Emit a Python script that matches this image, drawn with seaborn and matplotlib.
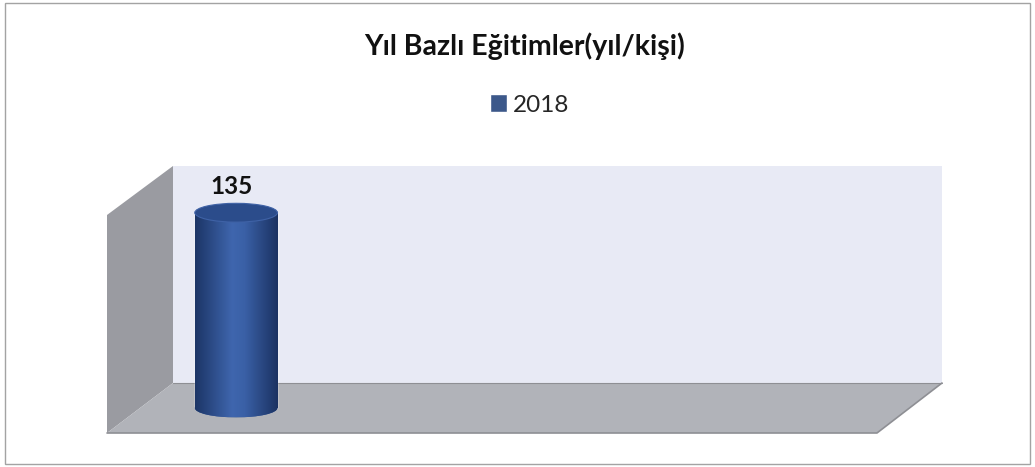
import numpy as np
import pandas as pd
import matplotlib
matplotlib.use("Agg")
import matplotlib.pyplot as plt
from matplotlib.patches import Polygon, Rectangle, Ellipse
from matplotlib.colors import LinearSegmentedColormap
import seaborn as sns

# data
title = "Yıl Bazlı Eğitimler(yıl/kişi)"
categories = ["Eğitim"]
series = ["2018"]
values = [135]
ymax = 150      # hidden value axis max
n_slots = 4     # category slots on the (hidden) x axis

# colours
bar_color = "#2F5597"
top_color = "#2B4C8B"
rim_color = "#3F62A6"
back_wall = "#E8EAF5"
side_wall = "#9A9BA1"
floor_col = "#B1B3B9"
edge_col = "#8E8F94"

sns.set_style("white")
plt.rcParams["font.family"] = ["Lato", "DejaVu Sans"]

W, H = 1035, 467
fig = plt.figure(figsize=(W / 100, H / 100), dpi=100)

# 3d box drawn in pixel space
bg = fig.add_axes([0, 0, 1, 1])
bg.set_xlim(0, W)
bg.set_ylim(H, 0)
bg.axis("off")
bg.add_patch(Rectangle((5, 3), 1025, 461, fill=False, edgecolor="#A3A3A3", lw=1))
bg.add_patch(Polygon([(173, 166), (942, 166), (942, 383), (173, 383)], closed=True,
                     facecolor=back_wall, edgecolor="none"))
bg.add_patch(Polygon([(107, 215), (173, 166), (173, 383), (107, 433)], closed=True,
                     facecolor=side_wall, edgecolor="none"))
bg.add_patch(Polygon([(173, 383), (942, 383), (877, 433), (107, 433)], closed=True,
                     facecolor=floor_col, edgecolor="none"))
bg.plot([173, 942], [383, 383], color=edge_col, lw=0.8)
bg.plot([107, 877, 942], [433, 433, 383], color=edge_col, lw=1.2)

# data plane sits half way through the depth
zero_px, top_px = 408, 191
ymin = -12
ppu = (zero_px - top_px) / ymax
ax_bottom_px = zero_px - ymin * ppu
ax = fig.add_axes([140 / W, (H - ax_bottom_px) / H, 769 / W, (ax_bottom_px - top_px) / H])
ax.patch.set_alpha(0)

df = pd.DataFrame({"kategori": categories, "deger": values, "yil": series})
sns.barplot(data=df, x="kategori", y="deger", hue="yil", palette=[bar_color],
            width=0.43, ax=ax, legend=True)

# cylinder shading
cyl_cmap = LinearSegmentedColormap.from_list(
    "cyl", [(0, "#1C3566"), (0.45, "#3F66AE"), (0.6, "#3A60A6"), (1, "#1B3262")])
grad = np.linspace(0, 1, 256).reshape(1, -1)
eh = 13
for bar, v in zip(list(ax.containers[0]), values):
    xb, wb, hb = bar.get_x(), bar.get_width(), bar.get_height()
    xc = xb + wb / 2
    bar.set_zorder(2)
    bottom = Ellipse((xc, 0), wb, eh, facecolor=bar_color, edgecolor="none", zorder=2)
    ax.add_patch(bottom)
    for clip in (bar, bottom):
        im = ax.imshow(grad, cmap=cyl_cmap, extent=(xb, xb + wb, -eh / 2, hb),
                       aspect="auto", zorder=3, interpolation="bicubic")
        im.set_clip_path(clip)
    ax.add_patch(Ellipse((xc, hb), wb, eh, facecolor=top_color, edgecolor=rim_color,
                         lw=0.8, zorder=4))
    ax.annotate(f"{v}", xy=(xc, hb), xytext=(-3.5, 19), textcoords="offset points",
                ha="center", va="center", fontsize=17.5, fontweight="bold", color="#111111")

ax.set_xlim(-0.5, n_slots - 0.5)
ax.set_ylim(ymin, ymax)
ax.axis("off")

sns.move_legend(ax, "center", bbox_to_anchor=(530 / W, 1 - 105 / H),
                bbox_transform=fig.transFigure, frameon=False, title=None,
                handlelength=0.7, handleheight=0.7, handletextpad=0.25, fontsize=17.5)

fig.text(525 / W, 1 - 46 / H, title, ha="center", va="center",
         fontsize=20.5, fontweight="bold", color="#111111")

fig.savefig("out.png", dpi=100)
